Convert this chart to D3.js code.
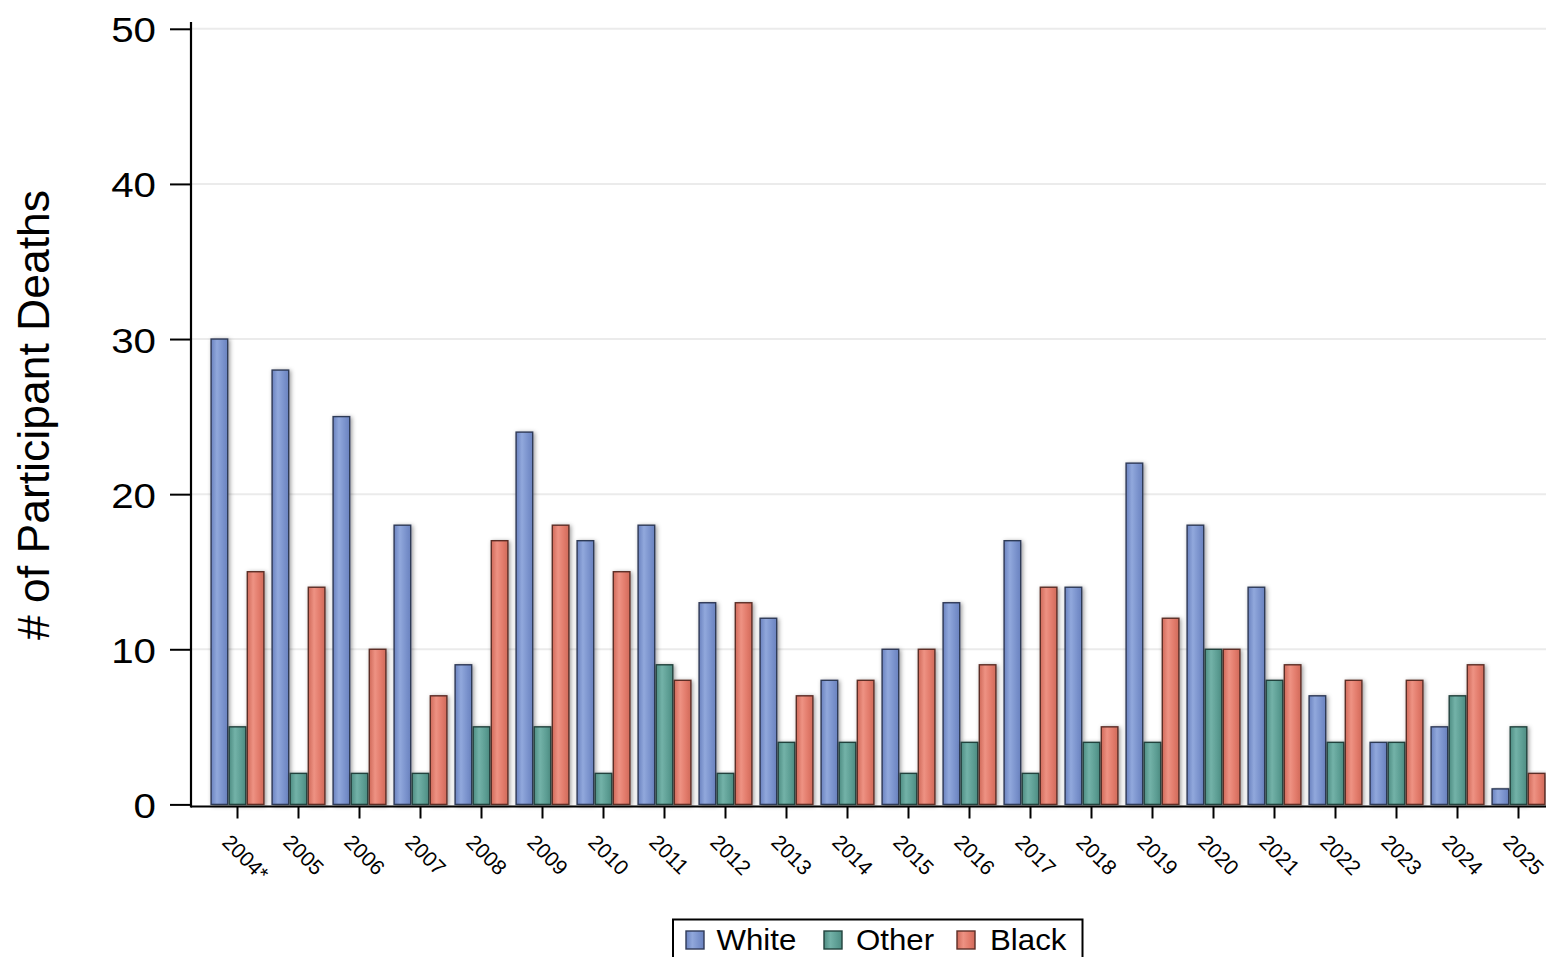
<!DOCTYPE html>
<html>
<head>
<meta charset="utf-8">
<script src="https://cdn.jsdelivr.net/npm/d3@7"></script>
<style>
  html, body { margin: 0; padding: 0; background: #fff; }
  svg { display: block; font-family: "Liberation Sans", Arial, sans-serif; }
</style>
</head>
<body>
<svg id="chart" width="1546" height="957"></svg>
<script>
const years = ["2004*","2005","2006","2007","2008","2009","2010","2011","2012","2013","2014","2015","2016","2017","2018","2019","2020","2021","2022","2023","2024","2025"];
const white = [30,28,25,18,9,24,17,18,13,12,8,10,13,17,14,22,18,14,7,4,5,1];
const other = [5,2,2,2,5,5,2,9,2,4,4,2,4,2,4,4,10,8,4,4,7,5];
const black = [15,14,10,7,17,18,15,8,13,7,8,10,9,14,5,12,10,9,8,8,9,2];
const seriesNames = ["White","Other","Black"];
const yTicks = [0,10,20,30,40,50];

const colors = {
  White: {base:"#7b93cd", light:"#91a8dc", dark:"#6a82bf", stroke:"#2f3a57"},
  Other: {base:"#5e9f95", light:"#73b2a8", dark:"#4f8d83", stroke:"#22423d"},
  Black: {base:"#e27b6b", light:"#ee9283", dark:"#d06a5a", stroke:"#5c2e27"}
};
const seriesData = {White: white, Other: other, Black: black};

const svg = d3.select("#chart");
const defs = svg.append("defs");

seriesNames.forEach(s => {
  const g = defs.append("linearGradient").attr("id", "grad-" + s)
    .attr("x1", "0%").attr("x2", "100%").attr("y1", "0%").attr("y2", "0%");
  g.append("stop").attr("offset", "0%").attr("stop-color", colors[s].dark);
  g.append("stop").attr("offset", "35%").attr("stop-color", colors[s].light);
  g.append("stop").attr("offset", "70%").attr("stop-color", colors[s].base);
  g.append("stop").attr("offset", "100%").attr("stop-color", colors[s].dark);
});
const f = defs.append("filter").attr("id", "shadow")
  .attr("x", "-50%").attr("y", "-10%").attr("width", "200%").attr("height", "120%");
f.append("feDropShadow").attr("dx", 1.5).attr("dy", 1).attr("stdDeviation", 2.2)
  .attr("flood-color", "#000").attr("flood-opacity", 0.4);

const axisX = 191, axisY = 806.5;

const y = d3.scaleLinear().domain([0, 50]).range([804.4, 28.8]);
const x0 = d3.scaleBand().domain(years).range([207, 1549]).paddingInner(0.11).paddingOuter(0.055);
const x1 = d3.scaleBand().domain(seriesNames).range([0, x0.bandwidth()]).padding(0);

// gridlines
svg.append("g").selectAll("line").data(yTicks.filter(d => d > 0)).join("line")
  .attr("x1", axisX).attr("x2", 1546)
  .attr("y1", d => y(d)).attr("y2", d => y(d))
  .attr("stroke", "#ebebeb").attr("stroke-width", 2);

// bars
const groups = svg.append("g").selectAll("g").data(years).join("g")
  .attr("transform", d => `translate(${x0(d)},0)`);
groups.selectAll("rect")
  .data((d, i) => seriesNames.map(s => ({s, v: seriesData[s][i]})))
  .join("rect")
  .attr("x", d => x1(d.s) + 0.75)
  .attr("width", x1.bandwidth() - 1.5)
  .attr("y", d => y(d.v))
  .attr("height", d => y(0) - y(d.v))
  .attr("fill", d => `url(#grad-${d.s})`)
  .attr("stroke", d => colors[d.s].stroke)
  .attr("stroke-width", 1.4)
  .attr("filter", "url(#shadow)");

// y axis
const yAxis = d3.axisLeft(y).tickValues(yTicks).tickSize(21).tickPadding(0).tickFormat(d3.format("d"));
const gy = svg.append("g").attr("transform", `translate(${axisX},0)`).call(yAxis);
gy.select(".domain").remove();
gy.selectAll(".tick line").attr("stroke", "#000").attr("stroke-width", 2);
gy.selectAll(".tick text")
  .attr("x", null)
  .attr("transform", "translate(-35,0) scale(1.12,1)")
  .attr("font-size", 36).attr("fill", "#000")
  .attr("font-family", "Liberation Sans, Arial, sans-serif").attr("dy", "0.36em");
svg.append("line").attr("x1", axisX).attr("x2", axisX).attr("y1", 22).attr("y2", axisY + 1)
  .attr("stroke", "#000").attr("stroke-width", 2.2);

// x axis
const xTickScale = d3.scaleOrdinal().domain(years).range(years.map(yr => x0(yr) + x1("Other") + x1.bandwidth() / 2));
const gx = svg.append("g");
gx.append("line").attr("x1", axisX).attr("x2", 1546).attr("y1", axisY).attr("y2", axisY)
  .attr("stroke", "#000").attr("stroke-width", 2.2);
const ticks = gx.selectAll("g.tick").data(years).join("g").attr("class", "tick")
  .attr("transform", d => `translate(${xTickScale(d)},${axisY})`);
ticks.append("line").attr("y1", 0).attr("y2", 12).attr("stroke", "#000").attr("stroke-width", 2);
ticks.append("text")
  .attr("transform", "translate(-16.5,37) rotate(45)")
  .attr("font-size", 21).attr("fill", "#000")
  .text(d => d);

// y title
svg.append("text")
  .attr("transform", "translate(49,415) rotate(-90)")
  .attr("text-anchor", "middle")
  .attr("font-size", 44.5).attr("fill", "#000")
  .text("# of Participant Deaths");

// legend
const lg = svg.append("g");
lg.append("rect").attr("x", 673).attr("y", 919.5).attr("width", 409.5).attr("height", 50)
  .attr("fill", "#fff").attr("stroke", "#000").attr("stroke-width", 2);
const legendItems = [
  {s: "White", sq: 686, tx: 716.5},
  {s: "Other", sq: 824, tx: 856},
  {s: "Black", sq: 957, tx: 990}
];
legendItems.forEach(it => {
  lg.append("rect").attr("x", it.sq).attr("y", 931).attr("width", 18).attr("height", 18)
    .attr("fill", `url(#grad-${it.s})`).attr("stroke", colors[it.s].stroke).attr("stroke-width", 1.4);
  lg.append("text").attr("transform", `translate(${it.tx},950) scale(1.06,1)`)
    .attr("font-size", 29.5).attr("fill", "#000").text(it.s);
});
</script>
</body>
</html>
